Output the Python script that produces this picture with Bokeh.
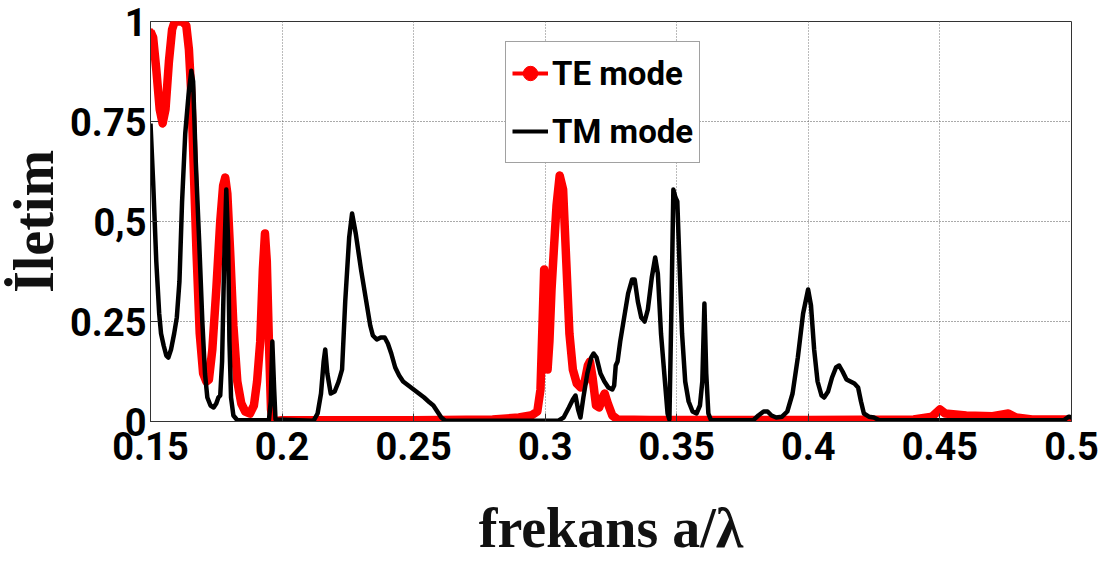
from bokeh.plotting import figure
from bokeh.models import (Range1d, FixedTicker, Legend, LegendItem,
                          ColumnDataSource)
from bokeh.embed import file_html
from bokeh.resources import INLINE

# ---------------- data ----------------
te_x = [0.1500, 0.1510, 0.1522, 0.1535, 0.1546, 0.1557, 0.1570, 0.1582, 0.1592, 0.1620,
        0.1636, 0.1646, 0.1655, 0.1665, 0.1675, 0.1687, 0.1700, 0.1712, 0.1722, 0.1735,
        0.1750, 0.1765, 0.1776, 0.1784, 0.1792, 0.1803, 0.1815, 0.1830, 0.1845, 0.1860,
        0.1878, 0.1893, 0.1905, 0.1917, 0.1927, 0.1935, 0.1942, 0.1950, 0.1958, 0.1965,
        0.2000, 0.2500, 0.2800, 0.2900, 0.2950, 0.2970, 0.2982, 0.2990, 0.2996, 0.3002,
        0.3009, 0.3016, 0.3024, 0.3032, 0.3043, 0.3055, 0.3068, 0.3080, 0.3092, 0.3105,
        0.3120, 0.3135, 0.3150, 0.3162, 0.3170, 0.3180, 0.3193, 0.3205, 0.3218, 0.3226,
        0.3238, 0.3255, 0.3275, 0.3400, 0.4000, 0.4400, 0.4470, 0.4500, 0.4520, 0.4600,
        0.4700, 0.4760, 0.4790, 0.4850, 0.5000]
te_y = [0.975, 0.96, 0.88, 0.78, 0.745, 0.78, 0.90, 0.98, 1.00, 1.00,
        0.99, 0.93, 0.82, 0.62, 0.42, 0.22, 0.12, 0.10, 0.105, 0.18,
        0.33, 0.50, 0.59, 0.61, 0.57, 0.42, 0.24, 0.10, 0.045, 0.025,
        0.02, 0.04, 0.10, 0.20, 0.38, 0.47, 0.40, 0.20, 0.03, 0.0,
        0.003, 0.003, 0.005, 0.01, 0.016, 0.025, 0.08, 0.25, 0.38, 0.22,
        0.13, 0.20, 0.33, 0.42, 0.54, 0.615, 0.58, 0.40, 0.22, 0.13,
        0.095, 0.085, 0.10, 0.14, 0.15, 0.11, 0.04, 0.035, 0.06, 0.07,
        0.045, 0.015, 0.005, 0.004, 0.004, 0.005, 0.012, 0.03, 0.02, 0.015,
        0.013, 0.02, 0.01, 0.005, 0.005]

tm_x = [0.1500, 0.1510, 0.1522, 0.1533, 0.1540, 0.1550, 0.1560, 0.1568, 0.1578, 0.1590,
        0.1600, 0.1610, 0.1620, 0.1632, 0.1645, 0.1655, 0.1662, 0.1672, 0.1685, 0.1697,
        0.1707, 0.1716, 0.1728, 0.1740, 0.1750, 0.1758, 0.1765, 0.1772, 0.1780, 0.1788,
        0.1795, 0.1800, 0.1806, 0.1815, 0.1830, 0.1950, 0.1957, 0.1963, 0.1970, 0.1975,
        0.2120, 0.2135, 0.2148, 0.2158, 0.2164, 0.2172, 0.2185, 0.2200, 0.2215, 0.2228,
        0.2240, 0.2255, 0.2266, 0.2280, 0.2300, 0.2320, 0.2335, 0.2345, 0.2360, 0.2375,
        0.2390, 0.2402, 0.2415, 0.2430, 0.2445, 0.2460, 0.2480, 0.2500, 0.2520, 0.2540,
        0.2560, 0.2575, 0.2590, 0.2605, 0.2620, 0.3050, 0.3070, 0.3090, 0.3105, 0.3115,
        0.3125, 0.3134, 0.3145, 0.3160, 0.3175, 0.3184, 0.3195, 0.3210, 0.3225, 0.3240,
        0.3255, 0.3262, 0.3268, 0.3275, 0.3285, 0.3300, 0.3315, 0.3330, 0.3340, 0.3352,
        0.3365, 0.3378, 0.3390, 0.3405, 0.3418, 0.3428, 0.3440, 0.3455, 0.3465, 0.3472,
        0.3480, 0.3487, 0.3495, 0.3502, 0.3510, 0.3520, 0.3532, 0.3545, 0.3560, 0.3575,
        0.3588, 0.3597, 0.3605, 0.3612, 0.3620, 0.3630, 0.3790, 0.3810, 0.3830, 0.3845,
        0.3860, 0.3878, 0.3900, 0.3920, 0.3940, 0.3960, 0.3980, 0.3999, 0.4010, 0.4022,
        0.4035, 0.4050, 0.4060, 0.4075, 0.4090, 0.4105, 0.4117, 0.4130, 0.4145, 0.4160,
        0.4175, 0.4189, 0.4200, 0.4211, 0.4230, 0.4249, 0.4270, 0.4970, 0.4990, 0.5000]
tm_y = [0.745, 0.60, 0.40, 0.27, 0.22, 0.19, 0.165, 0.16, 0.18, 0.22,
        0.26, 0.35, 0.55, 0.72, 0.82, 0.877, 0.85, 0.65, 0.45, 0.25,
        0.12, 0.06, 0.04, 0.035, 0.045, 0.06, 0.065, 0.15, 0.40, 0.58,
        0.45, 0.20, 0.06, 0.015, 0.003, 0.003, 0.05, 0.20, 0.08, 0.005,
        0.002, 0.02, 0.07, 0.15, 0.18, 0.12, 0.07, 0.075, 0.10, 0.13,
        0.30, 0.46, 0.52, 0.47, 0.38, 0.30, 0.24, 0.215, 0.205, 0.21,
        0.21, 0.195, 0.17, 0.135, 0.115, 0.10, 0.09, 0.08, 0.07, 0.06,
        0.048, 0.04, 0.025, 0.01, 0.002, 0.002, 0.01, 0.035, 0.055, 0.065,
        0.03, 0.01, 0.06, 0.12, 0.16, 0.17, 0.16, 0.12, 0.10, 0.085,
        0.08, 0.09, 0.14, 0.15, 0.20, 0.26, 0.32, 0.355, 0.355, 0.30,
        0.26, 0.25, 0.28, 0.36, 0.41, 0.37, 0.22, 0.10, 0.02, 0.005,
        0.30, 0.58, 0.56, 0.55, 0.40, 0.22, 0.10, 0.05, 0.025, 0.02,
        0.04, 0.10, 0.295, 0.12, 0.02, 0.003, 0.003, 0.015, 0.025, 0.025,
        0.015, 0.01, 0.012, 0.025, 0.07, 0.16, 0.27, 0.33, 0.29, 0.18,
        0.10, 0.065, 0.06, 0.075, 0.11, 0.135, 0.14, 0.125, 0.105, 0.10,
        0.095, 0.085, 0.05, 0.02, 0.012, 0.01, 0.003, 0.003, 0.012, 0.01]

x_ticks = [0.15, 0.2, 0.25, 0.3, 0.35, 0.4, 0.45, 0.5]
x_tick_labels = ["0.15", "0.2", "0.25", "0.3", "0.35", "0.4", "0.45", "0.5"]
y_ticks = [0, 0.25, 0.5, 0.75, 1]
y_tick_labels = ["0", "0.25", "0,5", "0.75", "1"]
series_names = ["TE mode", "TM mode"]
x_title = "frekans a/λ"
y_title = "İletim"

# ---------------- figure ----------------
TICKFONT = "Roboto"
SERIF = "Liberation Serif"

p = figure(width=1111, height=563, output_backend="svg", toolbar_location=None,
           x_range=Range1d(0.15, 0.5), y_range=Range1d(0, 1),
           min_border_left=148, min_border_right=40, min_border_top=21,
           min_border_bottom=142)
p.background_fill_color = "white"
p.border_fill_color = "white"
p.outline_line_color = "#333333"
p.outline_line_width = 1

for ax in (p.xaxis[0], p.yaxis[0]):
    ax.axis_line_color = "#333333"
    ax.major_tick_in = 8
    ax.major_tick_out = 0
    ax.minor_tick_line_color = None
    ax.major_tick_line_color = "#333333"
    ax.major_label_text_font = TICKFONT
    ax.major_label_text_font_style = "bold"
    ax.major_label_text_font_size = "38px"
    ax.major_label_text_color = "black"
    ax.axis_label_text_font = SERIF
    ax.axis_label_text_font_style = "bold"
    ax.axis_label_text_font_size = "56px"
    ax.axis_label_text_color = "#111111"

p.xaxis[0].ticker = FixedTicker(ticks=x_ticks)
p.xaxis[0].major_label_overrides = {t: l for t, l in zip(x_ticks, x_tick_labels)}
p.xaxis[0].major_label_standoff = 10
p.xaxis[0].axis_label = x_title
p.xaxis[0].axis_label_standoff = 34
p.yaxis[0].ticker = FixedTicker(ticks=y_ticks)
p.yaxis[0].major_label_overrides = {t: l for t, l in zip(y_ticks, y_tick_labels)}
p.yaxis[0].major_label_standoff = 4
p.yaxis[0].axis_label = y_title
p.yaxis[0].axis_label_standoff = 2

p.xgrid.grid_line_color = "#777777"
p.xgrid.grid_line_dash = "1 2"
p.ygrid.grid_line_color = "#555555"
p.ygrid.grid_line_dash = "1 2"

# ---------------- curves ----------------
te_src = ColumnDataSource(dict(x=te_x, y=te_y))
tm_src = ColumnDataSource(dict(x=tm_x, y=tm_y))

p.line("x", "y", source=te_src, line_color="#ff0000", line_width=8.5, line_join="round")
p.scatter("x", "y", source=te_src, marker="asterisk", size=7, line_color="#ff0000",
          line_width=2)
p.line("x", "y", source=tm_src, line_color="black", line_width=4.5, line_join="round")

# legend-only renderers (placed outside the visible ranges)
off = ColumnDataSource(dict(x=[-1.0, -0.9], y=[-1.0, -1.0]))
leg_te_line = p.line("x", "y", source=off, line_color="#ff0000", line_width=4)
leg_te_pt = p.scatter("x", "y", source=off, marker="circle", size=5,
                      fill_color="#ff0000", line_color="#ff0000")
leg_tm_line = p.line("x", "y", source=off, line_color="black", line_width=4)

legend = Legend(items=[LegendItem(label=series_names[0], renderers=[leg_te_line, leg_te_pt]),
                       LegendItem(label=series_names[1], renderers=[leg_tm_line])],
                location=(355, 258))
legend.label_text_font = TICKFONT
legend.label_text_font_style = "bold"
legend.label_text_font_size = "33px"
legend.label_text_color = "black"
legend.glyph_width = 36
legend.glyph_height = 50
legend.label_height = 50
legend.label_standoff = 4
legend.padding = 6
legend.spacing = 8
legend.margin = 0
legend.border_line_color = "#444444"
legend.border_line_width = 1
legend.background_fill_color = "white"
legend.background_fill_alpha = 1
p.add_layout(legend)

open("out.html", "w").write(file_html(p, INLINE))
